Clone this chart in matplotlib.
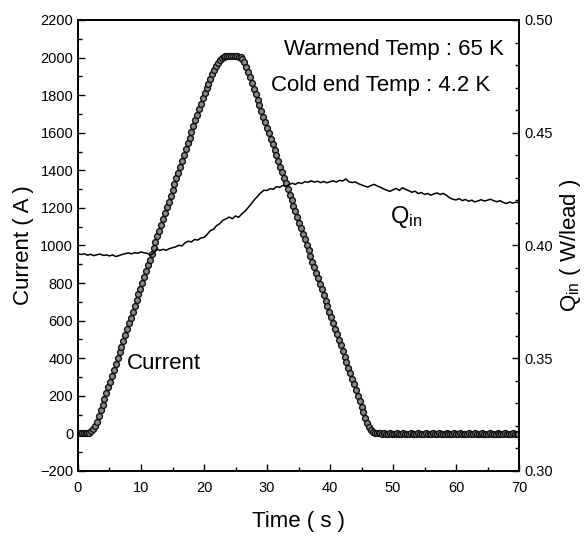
import numpy as np
import matplotlib
matplotlib.use("Agg")
import matplotlib.pyplot as plt
from matplotlib import font_manager
from matplotlib.ticker import MultipleLocator, FormatStrFormatter

# narrow font like the original (Arial Narrow look), falls back to Liberation Sans
names = {f.name for f in font_manager.fontManager.ttflist}
FONT = "Liberation Sans Narrow" if "Liberation Sans Narrow" in names else "Liberation Sans"
plt.rcParams["font.family"] = [FONT, "DejaVu Sans"]
plt.rcParams["mathtext.fontset"] = "custom"
plt.rcParams["mathtext.rm"] = FONT
plt.rcParams["mathtext.it"] = FONT

# current samples, every 0.3 s from 0 to 69.9 s
time_current = np.round(np.arange(234) * 0.3, 1)
current_A = [
    0, 0, 0, 0, 0, 1, 4, 12, 24, 42,                                # 0.0 - 2.7
    62, 91, 122, 152, 183, 214, 245, 276, 307, 338,                 # 3.0 - 5.7
    369, 400, 431, 461, 492, 523, 554, 585, 616, 647,               # 6.0 - 8.7
    678, 709, 740, 770, 801, 832, 863, 894, 925, 956,               # 9.0 - 11.7
    987, 1018, 1049, 1079, 1110, 1141, 1172, 1203, 1234, 1265,      # 12.0 - 14.7
    1296, 1327, 1358, 1388, 1419, 1450, 1481, 1512, 1543, 1574,     # 15.0 - 17.7
    1605, 1636, 1667, 1697, 1728, 1755, 1783, 1810, 1836, 1862,     # 18.0 - 20.7
    1886, 1910, 1933, 1953, 1970, 1985, 1996, 2003, 2007, 2009,     # 21.0 - 23.7
    2010, 2010, 2010, 2009, 2008, 2005, 2001, 1991, 1974, 1952,     # 24.0 - 26.7
    1924, 1894, 1865, 1835, 1805, 1776, 1746, 1716, 1686, 1657,     # 27.0 - 29.7
    1627, 1597, 1568, 1538, 1508, 1479, 1449, 1419, 1389, 1360,     # 30.0 - 32.7
    1330, 1300, 1271, 1241, 1211, 1182, 1152, 1122, 1092, 1063,     # 33.0 - 35.7
    1033, 1003, 974, 944, 914, 885, 855, 825, 795, 766,             # 36.0 - 38.7
    736, 706, 677, 647, 617, 588, 558, 528, 498, 469,               # 39.0 - 41.7
    439, 409, 380, 350, 320, 291, 261, 231, 201, 172,               # 42.0 - 44.7
    142, 112, 84, 58, 36, 20, 10, 4, 1, 0,                          # 45.0 - 47.7
    0, -1, 0, -2, -1, 0, -1, -2, -1, 0,                             # 48.0 - 50.7
    -1, -2, 0, -1, -2, -1, 0, -1, -2, -1,                           # 51.0 - 53.7
    0, -1, -2, -1, 0, -2, -1, -1, 0, -2,                            # 54.0 - 56.7
    -1, 0, -1, -2, -1, 0, -1, -2, -1, 0,                            # 57.0 - 59.7
    -2, -1, 0, -1, -2, -1, -1, 0, -2, -1,                           # 60.0 - 62.7
    0, -1, -2, -1, 0, -1, -2, -1, 0, -1,                            # 63.0 - 65.7
    -2, -1, 0, -1, -2, -1, 0, -1, -2, -1,                           # 66.0 - 68.7
    0, -1, -2, -1,                                                  # 69.0 - 69.9
]

# heat input per lead, every 0.5 s from 0 to 70 s
time_q = np.round(np.arange(141) * 0.5, 1)
q_in = [
    0.3964, 0.3960, 0.3963, 0.3957, 0.3961, 0.3955, 0.3959, 0.3962, 0.3956, 0.3958,
    0.3954, 0.3958, 0.3951, 0.3955, 0.3960, 0.3964, 0.3967, 0.3963, 0.3968, 0.3966,
    0.3971, 0.3968, 0.3965, 0.3957, 0.3966, 0.3985, 0.3978, 0.3983, 0.3979, 0.3986,
    0.3990, 0.3994, 0.4001, 0.3998, 0.4012, 0.4019, 0.4016, 0.4027, 0.4024, 0.4033,
    0.4036, 0.4049, 0.4066, 0.4072, 0.4088, 0.4097, 0.4112, 0.4118, 0.4126, 0.4119,
    0.4131, 0.4125, 0.4140, 0.4152, 0.4168, 0.4185, 0.4203, 0.4218, 0.4233, 0.4245,
    0.4244, 0.4252, 0.4249, 0.4261, 0.4258, 0.4266, 0.4262, 0.4270, 0.4276, 0.4271,
    0.4279, 0.4275, 0.4283, 0.4280, 0.4287, 0.4281, 0.4285, 0.4279, 0.4284, 0.4278,
    0.4283, 0.4287, 0.4281, 0.4289, 0.4286, 0.4295, 0.4283, 0.4279, 0.4282, 0.4274,
    0.4269, 0.4263, 0.4259, 0.4266, 0.4271, 0.4264, 0.4258, 0.4251, 0.4245, 0.4240,
    0.4247, 0.4253, 0.4244, 0.4256, 0.4249, 0.4243, 0.4236, 0.4241, 0.4230, 0.4235,
    0.4226, 0.4231, 0.4223, 0.4229, 0.4233, 0.4226, 0.4231, 0.4222, 0.4211, 0.4205,
    0.4202, 0.4208, 0.4199, 0.4204, 0.4196, 0.4201, 0.4193, 0.4198, 0.4203, 0.4197,
    0.4201, 0.4205, 0.4198, 0.4194, 0.4199, 0.4191, 0.4186, 0.4193, 0.4188, 0.4192,
    0.4190,
]

fig = plt.figure(figsize=(5.86, 5.43), dpi=100)
ax = fig.add_axes([0.1331, 0.1326, 0.7526, 0.8306])
ax2 = ax.twinx()

ax.plot(time_current, current_A, "o", ms=4.2, mfc="#8a8a8a", mec="#111111", mew=1.0)
ax2.plot(time_q, q_in, "-", color="black", lw=1.1)

ax.set_xlim(0, 70)
ax.set_ylim(-200, 2200)
ax2.set_ylim(0.30, 0.50)

ax.xaxis.set_major_locator(MultipleLocator(10))
ax.xaxis.set_minor_locator(MultipleLocator(5))
ax.yaxis.set_major_locator(MultipleLocator(200))
ax.yaxis.set_minor_locator(MultipleLocator(100))
ax2.yaxis.set_major_locator(MultipleLocator(0.05))
ax2.yaxis.set_minor_locator(MultipleLocator(0.01))
ax2.yaxis.set_major_formatter(FormatStrFormatter("%.2f"))

for a in (ax, ax2):
    a.tick_params(which="both", direction="in", top=False, labelsize=10.5)
    a.tick_params(which="major", length=5, width=1)
    a.tick_params(which="minor", length=3, width=1)
    for s in a.spines.values():
        s.set_linewidth(1.2)
ax.tick_params(axis="y", right=False)
ax.tick_params(axis="x", pad=7)

ax.set_xlabel("Time ( s )", fontsize=16, labelpad=12)
ax.set_ylabel("Current ( A )", fontsize=16, labelpad=4)
ax2.set_ylabel(r"Q$_{\rm in}$ ( W/lead )", fontsize=16, labelpad=4)

ax.text(0.965, 0.935, "Warmend Temp : 65 K", transform=ax.transAxes,
        ha="right", va="center", fontsize=16)
ax.text(0.935, 0.855, "Cold end Temp : 4.2 K", transform=ax.transAxes,
        ha="right", va="center", fontsize=16)
ax.text(7.8, 370, "Current", fontsize=16, ha="left", va="center")
ax.text(49.5, 1150, r"Q$_{\rm in}$", fontsize=17, ha="left", va="center")

fig.savefig("out.png", dpi=100)
